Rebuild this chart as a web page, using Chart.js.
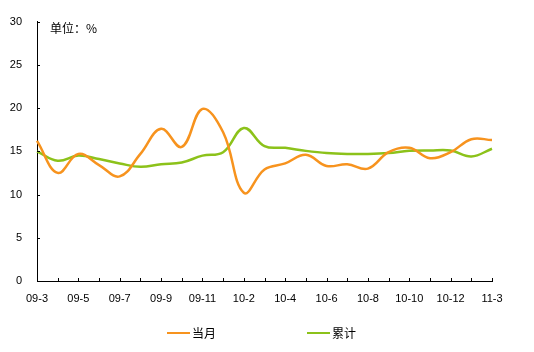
<!DOCTYPE html>
<html>
<head>
<meta charset="utf-8">
<script src="https://cdn.jsdelivr.net/npm/chart.js@4/dist/chart.umd.min.js"></script>
<style>
  html, body { margin: 0; padding: 0; background: #fff; }
  #wrap { position: relative; width: 534px; height: 352px; }
  #unit { position: absolute; left: 50px; top: 19px; font: 12px "Noto Sans CJK SC", sans-serif; color: #000; }
  .lg { position: absolute; top: 324px; font: 12px "Noto Sans CJK SC", sans-serif; color: #000; display: flex; align-items: center; }
  .lg i { display: inline-block; width: 23px; height: 2px; margin-right: 2px; }
</style>
</head>
<body>
<div id="wrap">
  <canvas id="c" width="534" height="352"></canvas>
  <div id="unit">单位：%</div>
  <div class="lg" style="left:167px"><i style="background:#F7931E"></i>当月</div>
  <div class="lg" style="left:307px"><i style="background:#8CC21A"></i>累计</div>
</div>
<script>
const months = ['09-3','09-4','09-5','09-6','09-7','09-8','09-9','09-10','09-11','09-12',
  '10-2','10-3','10-4','10-5','10-6','10-7','10-8','10-9','10-10','10-11','10-12','11-2','11-3'];
const monthly = [16.2, 12.5, 14.7, 13.4, 12.1, 14.7, 17.6, 15.5, 19.9, 17.2,
  10.2, 12.9, 13.6, 14.6, 13.3, 13.5, 13.0, 14.9, 15.4, 14.2, 14.9, 16.4, 16.3];
const cumulative = [15.0, 13.9, 14.5, 14.1, 13.6, 13.2, 13.5, 13.7, 14.5, 14.9,
  17.7, 15.6, 15.4, 15.05, 14.8, 14.7, 14.7, 14.8, 15.05, 15.1, 15.1, 14.4, 15.3];
const yTicks = [0, 5, 10, 15, 20, 25, 30];

const tickFont = { family: '"Liberation Sans", Arial, sans-serif', size: 11 };

// short tick marks pointing into the plot, like the original
const innerTicks = {
  id: 'innerTicks',
  afterDraw(chart) {
    const { ctx, chartArea: a, scales: { x, y } } = chart;
    ctx.save();
    ctx.strokeStyle = '#000';
    ctx.lineWidth = 1;
    ctx.beginPath();
    months.forEach((m, i) => {
      const px = Math.round(x.getPixelForValue(i)) + 0.5;
      ctx.moveTo(px, a.bottom);
      ctx.lineTo(px, a.bottom - 3);
    });
    yTicks.forEach(v => {
      if (!v) return;
      const py = Math.round(y.getPixelForValue(v)) + 0.5;
      ctx.moveTo(a.left, py);
      ctx.lineTo(a.left + 3, py);
    });
    ctx.stroke();
    ctx.restore();
  }
};

new Chart(document.getElementById('c'), {
  type: 'line',
  data: {
    labels: months,
    datasets: [
      { label: '当月', data: monthly, borderColor: '#F7931E', borderWidth: 2.5, pointRadius: 0, tension: 0.4 },
      { label: '累计', data: cumulative, borderColor: '#8CC21A', borderWidth: 2.5, pointRadius: 0, tension: 0.4 }
    ]
  },
  options: {
    responsive: false,
    animation: false,
    events: [],
    layout: { padding: { left: 0, right: 42, top: 18, bottom: 41 } },
    plugins: { legend: { display: false }, tooltip: { enabled: false } },
    scales: {
      x: {
        offset: false,
        grid: { drawOnChartArea: false, drawTicks: false },
        border: { color: '#000', width: 1 },
        ticks: {
          color: '#000', font: tickFont, padding: 11, maxRotation: 0, autoSkip: false,
          callback: (v, i) => (i % 2 === 0 ? months[i] : '')
        },
        afterFit: s => { s.height = 30; }
      },
      y: {
        min: 0, max: 30,
        grid: { drawOnChartArea: false, drawTicks: false },
        border: { color: '#000', width: 1 },
        ticks: { stepSize: 5, color: '#000', font: tickFont, padding: 15 },
        afterFit: s => { s.width = 37; }
      }
    }
  },
  plugins: [innerTicks]
});
</script>
</body>
</html>
